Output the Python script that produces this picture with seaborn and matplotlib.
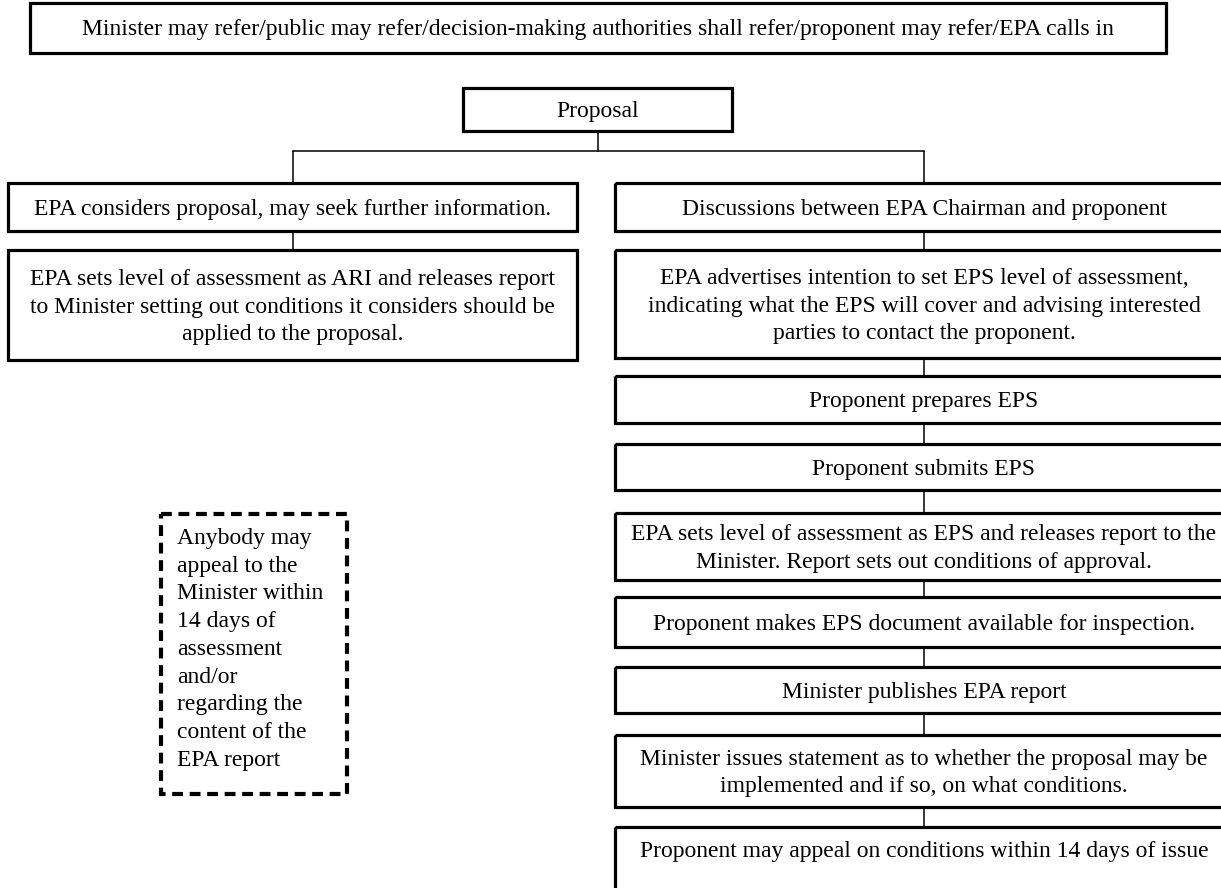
import matplotlib
matplotlib.use("Agg")
import matplotlib.pyplot as plt
import seaborn as sns
import pandas as pd
from matplotlib.patches import Rectangle

sns.set_theme(style="white")
plt.rcParams['font.family'] = ['Liberation Serif', 'DejaVu Serif']

# ---- content ----
top_text = ("Minister may refer/public may refer/decision-making authorities shall "
            "refer/proponent may refer/EPA calls in")
root_text = "Proposal"
left_steps = [
    "EPA considers proposal, may seek further information.",
    "EPA sets level of assessment as ARI and releases report\n"
    "to Minister setting out conditions it considers should be\n"
    "applied to the proposal.",
]
right_steps = [
    "Discussions between EPA Chairman and proponent",
    "EPA advertises intention to set EPS level of assessment,\n"
    "indicating what the EPS will cover and advising interested\n"
    "parties to contact the proponent.",
    "Proponent prepares EPS",
    "Proponent submits EPS",
    "EPA sets level of assessment as EPS and releases report to the\n"
    "Minister. Report sets out conditions of approval.",
    "Proponent makes EPS document available for inspection.",
    "Minister publishes EPA report",
    "Minister issues statement as to whether the proposal may be\n"
    "implemented and if so, on what conditions.",
    "Proponent may appeal on conditions within 14 days of issue",
]
appeal_note = ("Anybody may\nappeal to the\nMinister within\n14 days of\nassessment\n"
               "and/or\nregarding the\ncontent of the\nEPA report")

# ---- layout (pixel coordinates, y downward) ----
W, H = 1221, 888
top_box = (30, 3, 1166, 53)
root_box = (463, 88, 732, 131)
left_x = (8, 577)
right_x = (615, 1233)
left_y = [(183, 231), (250, 360)]
right_y = [(183, 231), (250, 358), (376, 423), (444, 490), (513, 580),
           (597, 647), (667, 713), (735, 807), (827, 905)]
right_text_y = [None] * 8 + [851]
branch_y = 151
note_box = (161, 514, 347, 794)

fig = plt.figure(figsize=(W / 100, H / 100), dpi=100)
ax = fig.add_axes([0, 0, 1, 1])

FS = 17
BOX_LW = 2.3
LS = 1.42


def box(x0, y0, x1, y1, text, fs=FS, ty=None):
    ax.add_patch(Rectangle((x0, y0), x1 - x0, y1 - y0, fill=False,
                           ec="black", lw=BOX_LW, zorder=3))
    cx = (x0 + x1) / 2
    cy = (y0 + y1) / 2 + 2 if ty is None else ty
    ax.text(cx, cy, text, ha="center", va="center", fontsize=fs,
            linespacing=LS, color="black", zorder=4)


# connectors
segs = []
lc = (left_x[0] + left_x[1]) / 2
rc = (right_x[0] + right_x[1]) / 2
rootc = (root_box[0] + root_box[2]) / 2
segs.append([(rootc, root_box[3]), (rootc, branch_y)])
segs.append([(lc, branch_y), (rc, branch_y)])
segs.append([(lc, branch_y), (lc, left_y[0][0])])
segs.append([(rc, branch_y), (rc, right_y[0][0])])
for a, b in zip(left_y[:-1], left_y[1:]):
    segs.append([(lc, a[1]), (lc, b[0])])
for a, b in zip(right_y[:-1], right_y[1:]):
    segs.append([(rc, a[1]), (rc, b[0])])
rows = []
for i, s in enumerate(segs):
    for (x, y) in s:
        rows.append({"seg": i, "x": x, "y": y})
df = pd.DataFrame(rows)
sns.lineplot(data=df, x="x", y="y", units="seg", estimator=None, sort=False,
             color="black", lw=1.1, ax=ax, zorder=2)

box(*top_box, top_text, fs=17)
box(*root_box, root_text)
for (y0, y1), t in zip(left_y, left_steps):
    box(left_x[0], y0, left_x[1], y1, t)
for (y0, y1), t, ty in zip(right_y, right_steps, right_text_y):
    box(right_x[0], y0, right_x[1], y1, t, ty=ty)

# dashed note
nx0, ny0, nx1, ny1 = note_box
ax.add_patch(Rectangle((nx0, ny0), nx1 - nx0, ny1 - ny0, fill=False, ec="black",
                       lw=3.0, ls=(0, (2.6, 1.6)), zorder=3))
ax.text(nx0 + 16, ny0 + 14, appeal_note, ha="left", va="top", fontsize=FS,
        linespacing=LS, color="black", zorder=4)

ax.set_xlim(0, W)
ax.set_ylim(H, 0)
ax.axis("off")
fig.savefig("out.png", dpi=100)
